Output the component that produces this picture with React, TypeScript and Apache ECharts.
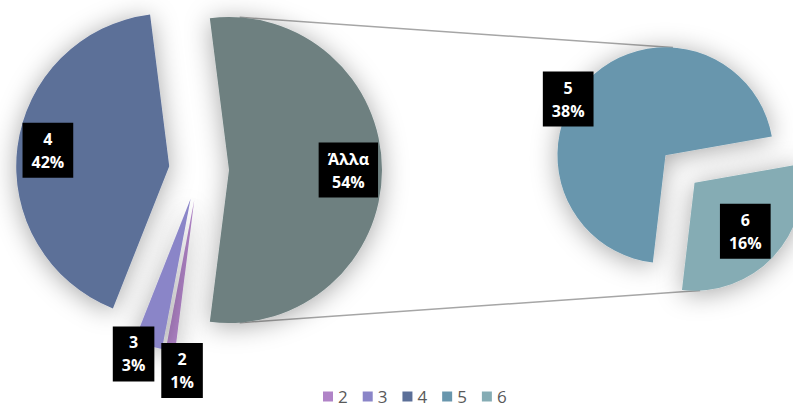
import React, { useEffect, useRef } from "react";
import * as echarts from "echarts";

// ---- data ----
const mainNames = ["2", "3", "4"];
const mainValues = [1, 3, 42];
const otherName = "Άλλα";
const secNames = ["5", "6"];
const secValues = [38, 16];
const legendNames = ["2", "3", "4", "5", "6"];
const mainColors = ["#b083c7", "#8a85c8", "#5b6f98", "#6e8080"];
const secColors = ["#6896ad", "#85acb4"];

// ---- layout ----
const MAIN_C = [199, 170];
const MAIN_R = 153;
const MAIN_OFF = 30;
const SEC_C = [680, 169];
const SEC_R = 108;
const SEC_OFF = 20;
const SEC_START = 263.3;
// label placement: [radius fraction, angle deg] relative to exploded slice apex
const mainLabelSpec = [
  [1.12, -94.1],
  [1.08, -110.2],
  [0.8, 172.5],
  [0.78, 0],
];
const secLabelSpec = [
  [1.04, 150],
  [0.65, -43.7],
];

const rad = (d: number) => (d * Math.PI) / 180;

function midAngles(values: number[], start: number) {
  const tot = values.reduce((a, b) => a + b, 0);
  let a = start;
  return values.map((v) => {
    const span = (v / tot) * 360;
    const m = a - span / 2;
    a -= span;
    return m;
  });
}

export default function App() {
  const ref = useRef<HTMLDivElement>(null);
  useEffect(() => {
    if (!ref.current) return;
    const chart = echarts.init(ref.current, undefined, { renderer: "svg" });
    const otherVal = secValues.reduce((a, b) => a + b, 0);
    const total = mainValues.reduce((a, b) => a + b, 0) + otherVal;
    const mVals = [...mainValues, otherVal];
    const mNames = [...mainNames, otherName];
    const otherFrac = otherVal / total;
    const mainStart = -180 * otherFrac; // other slice centred on the right
    const mMids = midAngles(mVals, mainStart);
    const sMids = midAngles(secValues, SEC_START);

    const apex = (c: number[], off: number, mid: number) => [
      c[0] + off * Math.cos(rad(mid)),
      c[1] - off * Math.sin(rad(mid)),
    ];
    const pt = (a: number[], r: number, ang: number) => [
      a[0] + r * Math.cos(rad(ang)),
      a[1] - r * Math.sin(rad(ang)),
    ];

    const labelFont = {
      fill: "#ffffff",
      fontWeight: "bold",
      fontSize: 16,
      lineHeight: 23,
      fontFamily: "'Open Sans', 'Noto Sans', sans-serif",
      backgroundColor: "#000000",
      padding: [5, 9, 4, 9],
      align: "center",
      verticalAlign: "middle",
    };
    const makeLabel = (
      name: string,
      value: number,
      c: number[],
      off: number,
      r: number,
      mid: number,
      spec: number[]
    ) => {
      const p = pt(apex(c, off, mid), spec[0] * r, spec[1]);
      return {
        type: "text",
        z: 10,
        x: p[0],
        y: p[1],
        style: {
          ...labelFont,
          text: name + "\n" + Math.round((value / total) * 100) + "%",
        },
      };
    };
    const labels = [
      ...mVals.map((v, i) =>
        makeLabel(mNames[i], v, MAIN_C, MAIN_OFF, MAIN_R, mMids[i], mainLabelSpec[i])
      ),
      ...secValues.map((v, i) =>
        makeLabel(secNames[i], v, SEC_C, SEC_OFF, SEC_R, sMids[i], secLabelSpec[i])
      ),
    ];

    // connector lines
    const apexOther = apex(MAIN_C, MAIN_OFF, mMids[3]);
    const apex5 = apex(SEC_C, SEC_OFF, sMids[0]);
    const apex6 = apex(SEC_C, SEC_OFF, sMids[1]);
    const t1 = pt(apexOther, MAIN_R, 86);
    const b1 = pt(apexOther, MAIN_R, -86);
    const t2 = pt(apex5, SEC_R, 86);
    const b2 = pt(apex6, SEC_R, -87);

    const shadow = {
      shadowBlur: 26,
      shadowColor: "rgba(0,0,0,0.35)",
      shadowOffsetX: 0,
      shadowOffsetY: 3,
    };

    chart.setOption({
      animation: false,
      backgroundColor: "#ffffff",
      legend: {
        data: legendNames,
        left: 318,
        top: 383,
        itemWidth: 10,
        itemHeight: 10,
        itemGap: 15,
        icon: "rect",
        selectedMode: false,
        textStyle: {
          color: "#595959",
          fontSize: 17,
          fontFamily: "'Open Sans', 'Noto Sans', sans-serif",
        },
      },
      graphic: [
        {
          type: "line",
          z: 0,
          shape: { x1: t1[0], y1: t1[1], x2: t2[0], y2: t2[1] },
          style: { stroke: "#a6a6a6", lineWidth: 1.5 },
        },
        {
          type: "line",
          z: 0,
          shape: { x1: b1[0], y1: b1[1], x2: b2[0], y2: b2[1] },
          style: { stroke: "#a6a6a6", lineWidth: 1.5 },
        },
        ...labels,
      ],
      series: [
        {
          type: "pie",
          z: 2,
          center: MAIN_C,
          radius: [0, MAIN_R],
          startAngle: mainStart,
          clockwise: true,
          selectedMode: "multiple",
          selectedOffset: MAIN_OFF,
          label: { show: false },
          labelLine: { show: false },
          emphasis: { disabled: true },
          itemStyle: { ...shadow },
          data: mVals.map((v, i) => ({
            name: mNames[i],
            value: v,
            selected: true,
            itemStyle: { color: mainColors[i], ...shadow },
          })),
        },
        {
          type: "pie",
          z: 2,
          center: SEC_C,
          radius: [0, SEC_R],
          startAngle: SEC_START,
          clockwise: true,
          selectedMode: "multiple",
          selectedOffset: SEC_OFF,
          label: { show: false },
          labelLine: { show: false },
          emphasis: { disabled: true },
          itemStyle: { ...shadow },
          data: secValues.map((v, i) => ({
            name: secNames[i],
            value: v,
            selected: true,
            itemStyle: { color: secColors[i], ...shadow },
          })),
        },
      ],
    });
    return () => chart.dispose();
  }, []);
  return (
    <div
      ref={ref}
      style={{ position: "absolute", left: 0, top: 0, width: 793, height: 407 }}
    />
  );
}
